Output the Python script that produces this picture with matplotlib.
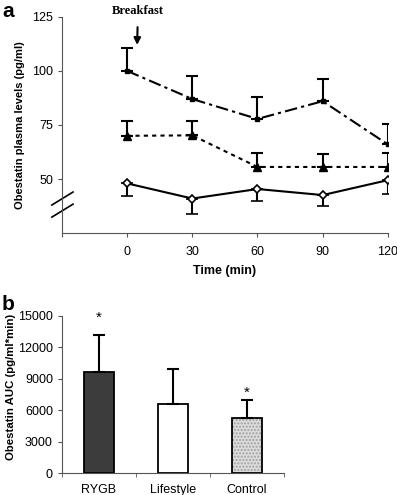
import numpy as np
import matplotlib.pyplot as plt

plt.rcParams['font.family'] = ['Liberation Sans', 'DejaVu Sans']

# panel a data
times = [0, 30, 60, 90, 120]
rygb = [100, 87, 77.8, 86, 66]
rygb_err = [10.6, 10.7, 10.2, 10.3, 9.5]
lifestyle = [70, 70.2, 55.6, 55.6, 55.6]
lifestyle_err = [7, 6.8, 6.4, 5.9, 6.4]
control = [48, 41, 45.4, 42.6, 49.5]
control_err = [6, 7.2, 5.4, 5.1, 6.5]

# panel b data
groups = ['RYGB', 'Lifestyle', 'Control']
auc = [9650, 6590, 5250]
auc_err = [3530, 3350, 1720]
bar_colors = ['#3c3c3c', 'white', '#dcdcdc']

fig = plt.figure(figsize=(3.97, 4.95), dpi=100)
axis_grey = '#555555'

# ---- panel a
ax = fig.add_axes([0.156, 0.529, 0.821, 0.437])
ax.errorbar(times, rygb, yerr=[np.zeros(5), rygb_err], color='black', lw=1.5,
            ls=(0, (6, 2, 1.5, 2)), marker='s', ms=3.2, capsize=4, elinewidth=1.5, capthick=1.5)
ax.errorbar(times, lifestyle, yerr=[np.zeros(5), lifestyle_err], color='black', lw=1.5,
            ls=(0, (2, 2)), marker='^', ms=6, capsize=4, elinewidth=1.5, capthick=1.5)
ax.errorbar(times, control, yerr=[control_err, np.zeros(5)], color='black', lw=1.5,
            ls='-', marker='D', ms=4.5, mfc='white', mew=1.2, capsize=4, elinewidth=1.5, capthick=1.5)
ax.set_xlim(-30, 120)
ax.set_ylim(25, 125)
ax.set_xticks([-30, 0, 30, 60, 90, 120])
ax.set_xticklabels(['', '0', '30', '60', '90', '120'])
ax.set_yticks([50, 75, 100, 125])
ax.tick_params(labelsize=9, length=3, color=axis_grey)
ax.tick_params(axis='x', pad=6)
for s in ['top', 'right']:
    ax.spines[s].set_visible(False)
for s in ['left', 'bottom']:
    ax.spines[s].set_color(axis_grey)
ax.set_xlabel('Time (min)', fontsize=9, fontweight='bold', labelpad=5)
ax.set_ylabel('Obestatin plasma levels (pg/ml)', fontsize=8, fontweight='bold')
ax.yaxis.set_label_coords(-0.113, 0.5)
# axis break marks
for dy in [0, -0.056]:
    ax.plot([-0.031, 0.034], [0.13 + dy, 0.19 + dy], transform=ax.transAxes,
            color='black', lw=1.2, clip_on=False)
ax.annotate('Breakfast', xy=(4.6, 112), xytext=(5, 127.5), ha='center', va='center',
            fontsize=9, fontweight='bold', family='Liberation Serif',
            arrowprops=dict(arrowstyle='-|>', color='black', lw=1.5, mutation_scale=10,
                            shrinkA=5, shrinkB=0),
            annotation_clip=False)

# ---- panel b
bx = fig.add_axes([0.156, 0.0444, 0.559, 0.318])
x = np.arange(len(groups))
# stipple for the control bar, drawn underneath with a light hatch
bx.bar(x[2], auc[2], width=0.4, color=bar_colors[2], edgecolor='#a0a0a0', lw=0,
       hatch='.....', zorder=1)
bx.bar(x, auc, width=0.4, color=['#3c3c3c', 'white', 'none'], edgecolor='black', lw=1.3,
       yerr=[np.zeros(3), auc_err], capsize=4, zorder=2,
       error_kw=dict(elinewidth=1.5, capthick=1.5))
star_y = [14800, None, 7600]
for i in [0, 2]:
    bx.text(x[i], star_y[i], '*', ha='center', va='center', fontsize=11)
bx.set_xlim(-0.5, 2.5)
bx.set_ylim(0, 15000)
bx.set_yticks([0, 3000, 6000, 9000, 12000, 15000])
bx.set_xticks([-0.5, 0.5, 1.5, 2.5], minor=True)
bx.set_xticks(x)
bx.set_xticklabels(groups)
bx.tick_params(labelsize=9, length=3, color=axis_grey)
bx.tick_params(axis='x', which='major', length=0, pad=8)
bx.tick_params(axis='x', which='minor', length=3, color=axis_grey)
for s in ['top', 'right']:
    bx.spines[s].set_visible(False)
for s in ['left', 'bottom']:
    bx.spines[s].set_color(axis_grey)
bx.set_ylabel('Obestatin AUC (pg/ml*min)', fontsize=8.2, fontweight='bold')
bx.yaxis.set_label_coords(-0.205, 0.55)

fig.text(0.005, 0.995, 'a', fontsize=15, fontweight='bold', va='top')
fig.text(0.005, 0.405, 'b', fontsize=15, fontweight='bold', va='top')

fig.savefig('out.png', dpi=100)
